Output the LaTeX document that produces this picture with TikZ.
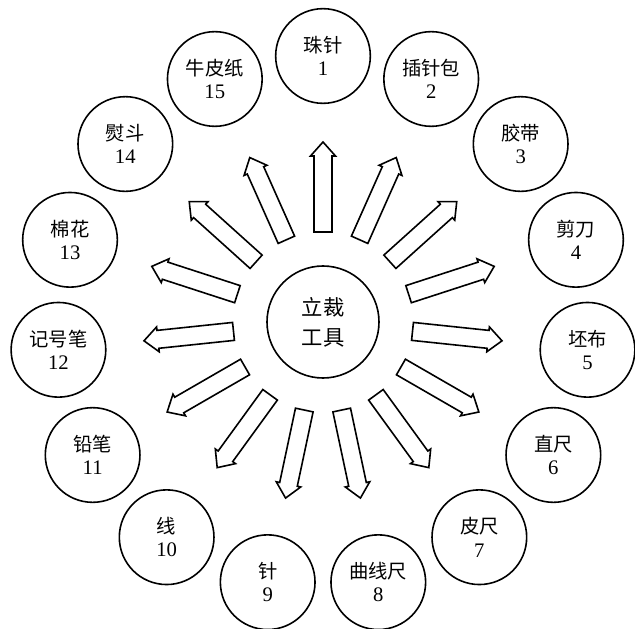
\documentclass[tikz,border=0pt]{standalone}
\usepackage{fontspec}
\setmainfont{Liberation Serif}
\newfontfamily\cjk{Noto Sans CJK SC}
\tikzset{
  tool/.style={draw,circle,line width=1.2pt,minimum size=71pt,inner sep=0pt,align=center,font=\fontsize{15.5}{17.5}\selectfont},
  hub/.style={draw,circle,line width=1.2pt,minimum size=84pt,inner sep=0pt,align=center,font=\fontsize{16}{22.5}\selectfont\cjk},
  blockarrow/.style={draw,line width=1.2pt,line join=miter}
}
\begin{document}
\begin{tikzpicture}[x=0.75pt,y=0.75pt]
\useasboundingbox (-323,-306) rectangle (312,322);
% centre
\node[hub] (hub) at (0,0) {立裁\\工具};
% tools round the centre, 24 degrees apart
\foreach \n/\lab [count=\i from 0] in {1/珠针,2/插针包,3/胶带,4/剪刀,5/坯布,6/直尺,7/皮尺,8/曲线尺,9/针,10/线,11/铅笔,12/记号笔,13/棉花,14/熨斗,15/牛皮纸} {
  \node[tool] (t\n) at ({90-24*\i}:266) {{\cjk\fontsize{14.5}{17.5}\selectfont \lab}\\\n};
  \draw[blockarrow,rotate=90-24*\i] (90,-9) -- (166,-9) -- (166,-12.5) -- (180,0) -- (166,12.5) -- (166,9) -- (90,9) -- cycle;
}
\end{tikzpicture}
\end{document}
